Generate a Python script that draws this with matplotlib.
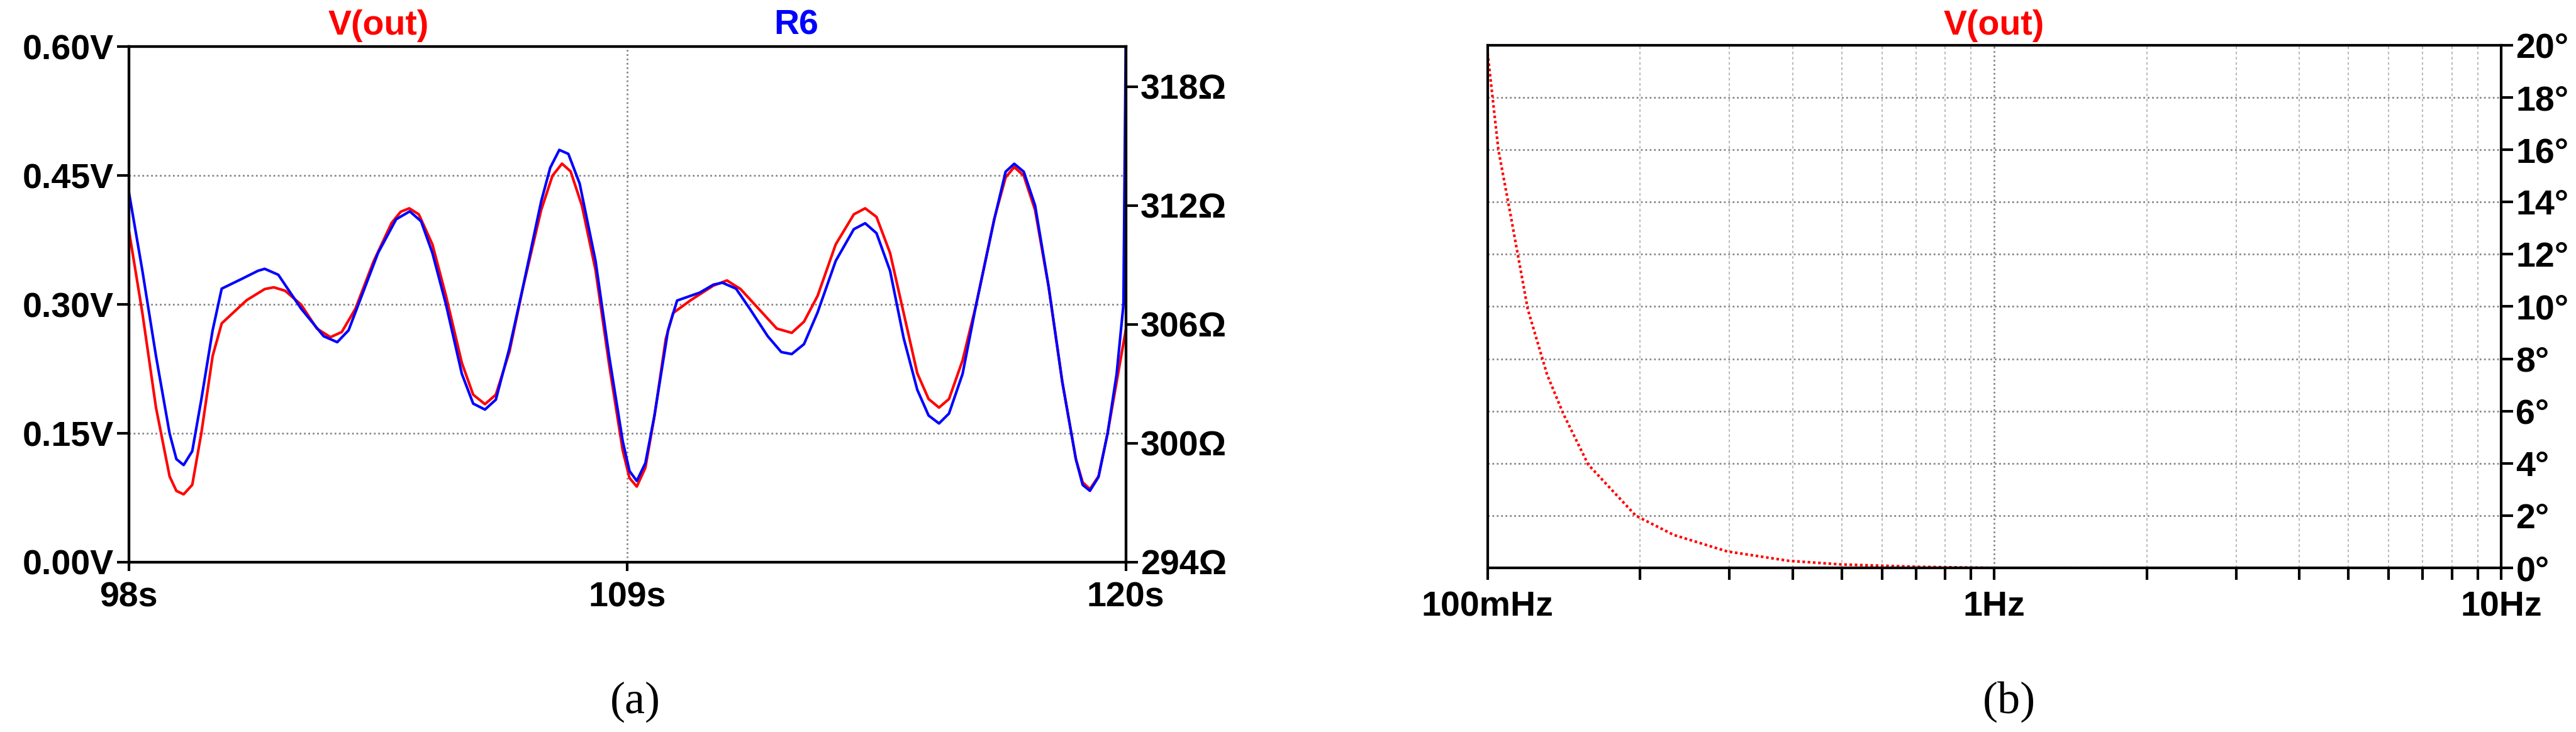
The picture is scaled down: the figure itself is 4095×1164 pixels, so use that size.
import matplotlib
matplotlib.use("Agg")
import matplotlib.pyplot as plt
from matplotlib.ticker import FixedLocator, NullFormatter

# ---- data panel (a)
t_red = [98.0, 98.3, 98.6, 98.9, 99.05, 99.21, 99.4, 99.6, 99.85, 100.05, 100.6, 101.0, 101.2, 101.45, 101.8,
         102.15, 102.45, 102.7, 103.0, 103.4, 103.8, 104.0, 104.19, 104.4, 104.7, 105.0, 105.35, 105.6, 105.86,
         106.1, 106.4, 106.7, 107.1, 107.35, 107.56, 107.75, 108.0, 108.3, 108.6, 108.9, 109.05, 109.21, 109.4,
         109.6, 109.85, 110.01, 110.4, 110.9, 111.2, 111.5, 111.9, 112.3, 112.63, 112.9, 113.2, 113.6, 114.0,
         114.25, 114.5, 114.8, 115.1, 115.4, 115.65, 115.88, 116.1, 116.4, 116.7, 117.1, 117.35, 117.54, 117.75,
         118.0, 118.3, 118.6, 118.9, 119.05, 119.21, 119.4, 119.6, 119.8, 120.0]
v_out = [0.387, 0.29, 0.18, 0.10, 0.083, 0.079, 0.09, 0.15, 0.24, 0.278, 0.305, 0.318, 0.32, 0.316, 0.30,
         0.272, 0.262, 0.268, 0.295, 0.35, 0.395, 0.408, 0.412, 0.405, 0.37, 0.31, 0.232, 0.195, 0.184,
         0.195, 0.245, 0.32, 0.41, 0.45, 0.464, 0.455, 0.415, 0.34, 0.23, 0.13, 0.098, 0.088, 0.11,
         0.17, 0.26, 0.29, 0.305, 0.322, 0.328, 0.318, 0.295, 0.272, 0.267, 0.28, 0.31, 0.37, 0.405,
         0.412, 0.402, 0.36, 0.29, 0.22, 0.19, 0.18, 0.19, 0.235, 0.30, 0.40, 0.448, 0.46, 0.45,
         0.41, 0.32, 0.21, 0.12, 0.093, 0.085, 0.10, 0.15, 0.21, 0.27]
t_blue = [98.0, 98.3, 98.6, 98.9, 99.05, 99.21, 99.4, 99.6, 99.85, 100.05, 100.5, 100.85, 101.0, 101.3, 101.8,
          102.3, 102.6, 102.85, 103.1, 103.5, 103.9, 104.2, 104.45, 104.7, 105.0, 105.35, 105.6, 105.86, 106.1,
          106.4, 106.7, 107.1, 107.3, 107.5, 107.7, 107.95, 108.3, 108.6, 108.9, 109.05, 109.21, 109.4, 109.6,
          109.9, 110.1, 110.6, 110.9, 111.1, 111.4, 111.7, 112.1, 112.4, 112.63, 112.9, 113.2, 113.6, 114.0,
          114.25, 114.5, 114.8, 115.1, 115.4, 115.65, 115.88, 116.1, 116.4, 116.7, 117.1, 117.35, 117.54, 117.75,
          118.0, 118.3, 118.6, 118.9, 119.05, 119.21, 119.4, 119.6, 119.8, 119.95, 120.0]
r6 = [312.7, 308.7, 304.4, 300.5, 299.2, 298.9, 299.6, 302.2, 305.7, 307.8, 308.3, 308.7, 308.8, 308.5, 306.8,
      305.4, 305.1, 305.7, 307.2, 309.6, 311.3, 311.7, 311.2, 309.6, 307.0, 303.5, 302.0, 301.7, 302.2,
      304.8, 307.9, 312.2, 313.9, 314.8, 314.6, 313.1, 309.2, 304.4, 300.1, 298.6, 298.1, 299.0, 301.4,
      305.7, 307.2, 307.6, 308.0, 308.1, 307.8, 306.8, 305.4, 304.6, 304.5, 305.0, 306.6, 309.2, 310.8,
      311.1, 310.6, 308.7, 305.3, 302.7, 301.4, 301.0, 301.5, 303.5, 307.0, 311.3, 313.7, 314.1, 313.7,
      312.0, 307.9, 303.1, 299.2, 297.9, 297.6, 298.3, 300.5, 303.5, 307.0, 320.0]
v_ticks = [0.0, 0.15, 0.30, 0.45, 0.60]
v_labels = ["0.00V", "0.15V", "0.30V", "0.45V", "0.60V"]
r_ticks = [294, 300, 306, 312, 318]
r_labels = ["294Ω", "300Ω", "306Ω", "312Ω", "318Ω"]
t_ticks = [98, 109, 120]
t_labels = ["98s", "109s", "120s"]

# ---- data panel (b)
freq = [0.1, 0.105, 0.111, 0.12, 0.131, 0.141, 0.158, 0.196, 0.233, 0.297, 0.393, 0.5, 0.71, 1.0, 2.0]
phase = [19.7, 16.0, 13.5, 9.9, 7.4, 5.9, 3.95, 2.0, 1.26, 0.63, 0.27, 0.13, 0.04, 0.0, 0.0]
p_ticks = list(range(0, 21, 2))
p_labels = [f"{v}°" for v in p_ticks]
f_ticks = [0.1, 1, 10]
f_labels = ["100mHz", "1Hz", "10Hz"]

FONT = ["Liberation Sans Narrow", "Liberation Sans", "DejaVu Sans"]
FS = 40
plt.rcParams['font.family'] = FONT
GRID = dict(color="#888888", lw=2, ls=(0, (1, 1.5)), zorder=0)

fig = plt.figure(figsize=(40.95, 11.64), dpi=100)

# panel (a)
ax = fig.add_axes([0.05, 0.232, 0.387, 0.704])
ax.plot(t_red, v_out, color="#ff0000", lw=3)
ax.set_xlim(98, 120)
ax.set_ylim(0, 0.6)
ax.set_yticks(v_ticks)
ax.set_yticklabels(v_labels, fontsize=FS, fontweight="bold")
ax.set_xticks(t_ticks)
ax.set_xticklabels(t_labels, fontsize=FS, fontweight="bold")
ax.tick_params(axis="both", direction="out", length=14, width=3, pad=3)
ax.tick_params(axis="x", length=10, pad=12)
for y in v_ticks[1:4]:
    ax.axhline(y, **GRID)
ax.axvline(109, **GRID)
for s in ax.spines.values():
    s.set_linewidth(3)
ax2 = ax.twinx()
ax2.plot(t_blue, r6, color="#0000ff", lw=3)
ax2.set_ylim(294, 294 + 26)
ax2.set_yticks(r_ticks)
ax2.set_yticklabels(r_labels, fontsize=FS, fontweight="bold")
ax2.tick_params(axis="y", direction="out", length=14, width=3, pad=3)
for s in ax2.spines.values():
    s.set_linewidth(3)
fig.text(0.147, 0.965, "V(out)", color="#ff0000", fontsize=FS, fontweight="bold", ha="center", va="center")
fig.text(0.309, 0.965, "R6", color="#0000ff", fontsize=FS, fontweight="bold", ha="center", va="center")

# panel (b)
bx = fig.add_axes([0.5775, 0.2242, 0.3934, 0.714])
bx.plot(freq, phase, color="#ff0000", lw=3, ls=(0, (1, 1)))
bx.set_xscale("log")
bx.set_xlim(0.1, 10)
bx.set_ylim(0, 20)
bx.yaxis.tick_right()
bx.set_yticks(p_ticks)
bx.set_yticklabels(p_labels, fontsize=FS, fontweight="bold")
bx.xaxis.set_major_locator(FixedLocator(f_ticks))
bx.set_xticklabels(f_labels, fontsize=FS, fontweight="bold")
minor = [m * d for d in (0.1, 1) for m in range(2, 10)]
bx.xaxis.set_minor_locator(FixedLocator(minor))
bx.xaxis.set_minor_formatter(NullFormatter())
bx.tick_params(axis="both", which="both", direction="out", length=14, width=3, pad=3)
bx.tick_params(axis="x", which="both", pad=12)
for y in p_ticks[1:-1]:
    bx.axhline(y, **GRID)
for x in minor:
    bx.axvline(x, color="#bbbbbb", lw=1.5, ls=(0, (2, 2)), zorder=0)
bx.axvline(1, **GRID)
for s in bx.spines.values():
    s.set_linewidth(3)
fig.text(0.774, 0.965, "V(out)", color="#ff0000", fontsize=FS, fontweight="bold", ha="center", va="center")

SERIF = ["Liberation Serif", "DejaVu Serif"]
fig.text(0.2465, 0.041, "(a)", fontsize=52, family=SERIF, ha="center", va="center")
fig.text(0.780, 0.041, "(b)", fontsize=52, family=SERIF, ha="center", va="center")

fig.savefig("out.png", dpi=100)
